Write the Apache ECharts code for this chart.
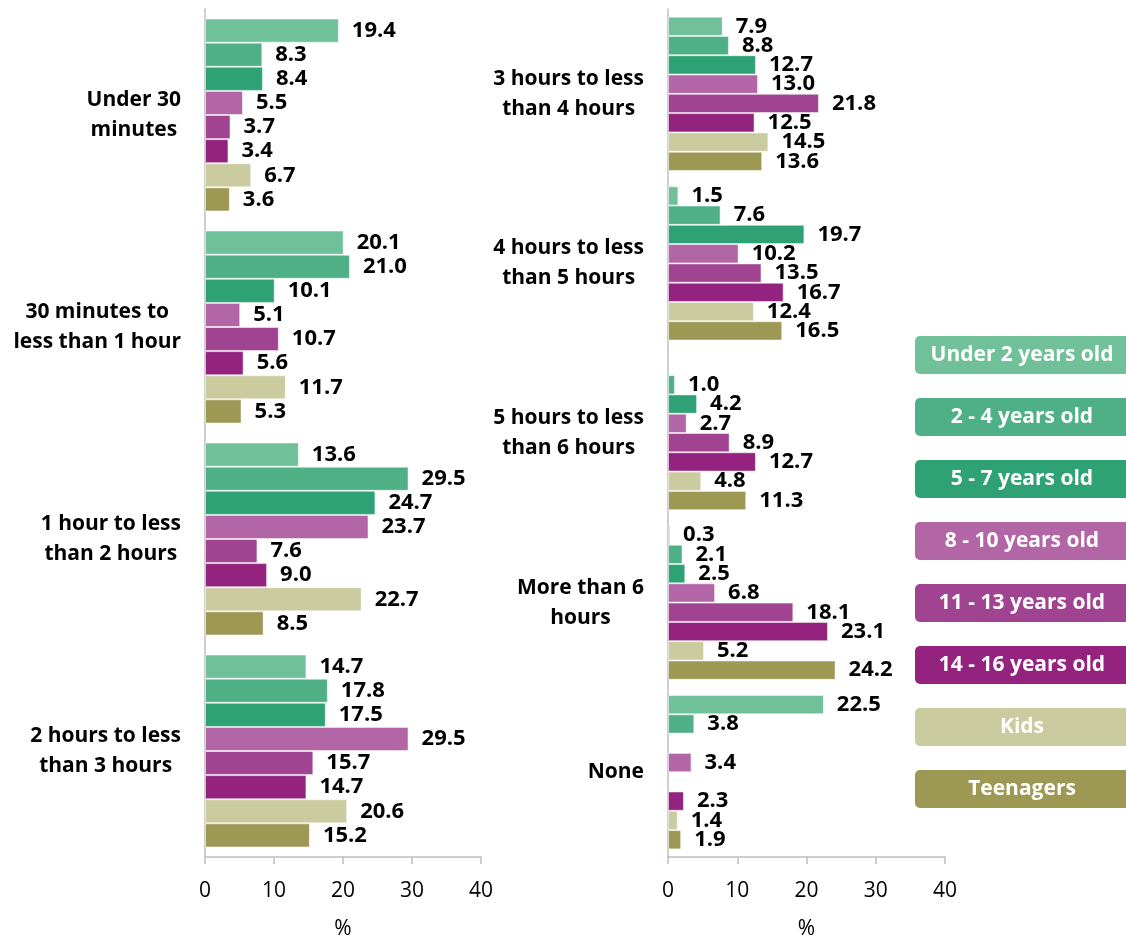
<!DOCTYPE html>
<html><head><meta charset="utf-8">
<script src="https://cdn.jsdelivr.net/npm/echarts@6/dist/echarts.min.js"></script>
<style>html,body{margin:0;padding:0;background:#fff}#c{width:1126px;height:940px}</style>
</head><body><div id="c"></div>
<script>
// ---- data ----
const seriesNames = ["Under 2 years old", "2 - 4 years old", "5 - 7 years old", "8 - 10 years old",
  "11 - 13 years old", "14 - 16 years old", "Kids", "Teenagers"];
const leftCategories = ["Under 30\nminutes", "30 minutes to\nless than 1 hour", "1 hour to less\nthan 2 hours", "2 hours to less\nthan 3 hours"];
const rightCategories = ["3 hours to less\nthan 4 hours", "4 hours to less\nthan 5 hours", "5 hours to less\nthan 6 hours", "More than 6\nhours", "None"];
const xTicks = [0, 10, 20, 30, 40];

const under2Left = [19.4, 20.1, 13.6, 14.7];
const under2Right = [7.9, 1.5, null, 0.3, 22.5];
const age2to4Left = [8.3, 21.0, 29.5, 17.8];
const age2to4Right = [8.8, 7.6, 1.0, 2.1, 3.8];
const age5to7Left = [8.4, 10.1, 24.7, 17.5];
const age5to7Right = [12.7, 19.7, 4.2, 2.5, null];
const age8to10Left = [5.5, 5.1, 23.7, 29.5];
const age8to10Right = [13.0, 10.2, 2.7, 6.8, 3.4];
const age11to13Left = [3.7, 10.7, 7.6, 15.7];
const age11to13Right = [21.8, 13.5, 8.9, 18.1, null];
const age14to16Left = [3.4, 5.6, 9.0, 14.7];
const age14to16Right = [12.5, 16.7, 12.7, 23.1, 2.3];
const kidsLeft = [6.7, 11.7, 22.7, 20.6];
const kidsRight = [14.5, 12.4, 4.8, 5.2, 1.4];
const teenagersLeft = [3.6, 5.3, 8.5, 15.2];
const teenagersRight = [13.6, 16.5, 11.3, 24.2, 1.9];

// ---- styling ----
const colors = ["#70C09A", "#4FB087", "#2EA274", "#B266A6", "#A04491", "#93237F", "#CBCBA0", "#9D9955"];
const FONT = "'Open Sans', Lato, sans-serif";
const leftData = [under2Left, age2to4Left, age5to7Left, age8to10Left, age11to13Left, age14to16Left, kidsLeft, teenagersLeft];
const rightData = [under2Right, age2to4Right, age5to7Right, age8to10Right, age11to13Right, age14to16Right, kidsRight, teenagersRight];

const chart = echarts.init(document.getElementById('c'), null, {renderer: 'canvas'});

function xAxis(gi) {
  return {
    gridIndex: gi, type: 'value', min: xTicks[0], max: xTicks[xTicks.length - 1], interval: 10,
    name: '%', nameLocation: 'middle', nameGap: 62,
    nameTextStyle: {fontFamily: FONT, fontSize: 21, color: '#000'},
    axisLine: {show: true, lineStyle: {color: '#BFBFBF', width: 1.5}},
    axisTick: {show: true, length: 7, lineStyle: {color: '#BFBFBF', width: 1.5}},
    axisLabel: {fontFamily: FONT, fontSize: 21, color: '#000', margin: 24},
    splitLine: {show: false}
  };
}
function yAxis(gi, cats) {
  return {
    gridIndex: gi, type: 'category', data: cats, inverse: true,
    axisLine: {show: true, lineStyle: {color: '#BFBFBF', width: 1.5}},
    axisTick: {show: false},
    axisLabel: {
      margin: 24,
      formatter: v => v.split('\n').map(l => '{c|' + l + '}').join('\n'),
      rich: {c: {align: 'center', fontFamily: FONT, fontSize: 21, fontWeight: 'bold', color: '#000', lineHeight: 30}}
    }
  };
}

const series = [];
[leftData, rightData].forEach((panel, gi) => {
  panel.forEach((vals, si) => {
    series.push({
      type: 'bar', name: seriesNames[si], xAxisIndex: gi, yAxisIndex: gi,
      data: vals, barGap: '0%', barCategoryGap: '9%',
      itemStyle: {color: colors[si], borderColor: 'rgba(255,255,255,0.5)', borderWidth: 1},
      label: {show: true, position: 'right', distance: 13,
        formatter: p => (p.value == null ? '' : Number(p.value).toFixed(1)),
        fontFamily: FONT, fontSize: 22, fontWeight: 'bold', color: '#000'},
      animation: false
    });
  });
});

const legendGraphics = seriesNames.map((n, i) => ({
  type: 'group', x: 915, y: 336 + 62 * i,
  children: [
    {type: 'rect', shape: {x: 0, y: 0, width: 216, height: 38, r: 5}, style: {fill: colors[i]}},
    {type: 'text', x: 107, y: 19, style: {text: n, fill: '#fff', font: 'bold 21px ' + FONT,
      align: 'center', verticalAlign: 'middle', textAlign: 'center', textVerticalAlign: 'middle'}}
  ]
}));

chart.setOption({
  animation: false,
  grid: [
    {left: 205, width: 276, top: 9, height: 848, outerBoundsMode: 'none', containLabel: false},
    {left: 668, width: 277, top: 9, height: 848, outerBoundsMode: 'none', containLabel: false}
  ],
  xAxis: [xAxis(0), xAxis(1)],
  yAxis: [yAxis(0, leftCategories), yAxis(1, rightCategories)],
  series: series,
  graphic: legendGraphics
});
</script></body></html>
